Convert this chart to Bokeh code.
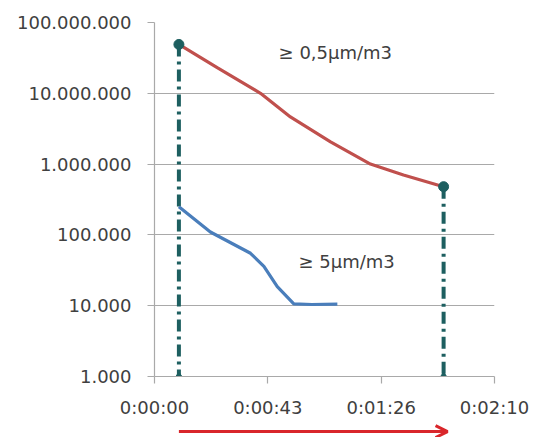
from bokeh.plotting import figure
from bokeh.layouts import column
from bokeh.models import Range1d, FixedTicker, Label, Arrow, OpenHead
from bokeh.embed import file_html
from bokeh.resources import INLINE

# ---- data (time in seconds, particle counts) ----
red_t = [9.3, 23.9, 40.4, 51.8, 67.1, 82.3, 94.9, 110.2]
red_v = [4.9e7, 2.3e7, 1.0e7, 4.64e6, 2.06e6, 1.0e6, 7.0e5, 4.8e5]

blue_t = [9.3, 21.3, 36.6, 41.7, 46.8, 53.1, 60.0, 69.7]
blue_v = [2.5e5, 1.1e5, 5.5e4, 3.6e4, 1.86e4, 1.06e4, 1.04e4, 1.05e4]

marker_t = [9.3, 110.2]
marker_top = [4.9e7, 4.8e5]
y_floor = 1000

y_ticks = [1e3, 1e4, 1e5, 1e6, 1e7, 1e8]
y_tick_labels = ["1.000", "10.000", "100.000", "1.000.000", "10.000.000", "100.000.000"]
x_ticks = [0, 43.2, 86.4, 129.6]
x_tick_labels = ["0:00:00", "0:00:43", "0:01:26", "0:02:10"]

label_big = "\u2265 0,5\u00b5m/m3"
label_small = "\u2265 5\u00b5m/m3"

arrow_t = [9.3, 111.7]

FONT = "DejaVu Sans"
GRID = "#a9a9a9"
TEAL = "#1d5f60"
ARROW_RED = "#d9262b"

p = figure(width=537, height=420, y_axis_type="log",
           x_range=Range1d(0, 129.6), y_range=Range1d(1e3, 1e8),
           output_backend="svg", toolbar_location=None,
           min_border_left=154, min_border_right=43,
           min_border_top=22, min_border_bottom=43)
p.outline_line_color = None
p.background_fill_color = "white"

p.xgrid.visible = False
p.ygrid.ticker = FixedTicker(ticks=y_ticks)
p.ygrid.grid_line_color = GRID
p.ygrid.grid_line_width = 1.2

for ax in (p.yaxis[0], p.xaxis[0]):
    ax.axis_line_color = GRID
    ax.axis_line_width = 1.2
    ax.major_tick_line_color = GRID
    ax.major_tick_line_width = 1.2
    ax.major_tick_in = 0
    ax.major_tick_out = 7
    ax.minor_tick_line_color = None
    ax.major_label_text_font = FONT
    ax.major_label_text_font_size = "18px"
    ax.major_label_text_color = "#404040"

p.yaxis[0].ticker = FixedTicker(ticks=y_ticks)
p.yaxis[0].major_label_overrides = {t: l for t, l in zip(y_ticks, y_tick_labels)}
p.yaxis[0].major_label_standoff = 16
p.xaxis[0].ticker = FixedTicker(ticks=x_ticks)
p.xaxis[0].major_label_overrides = {t: l for t, l in zip(x_ticks, x_tick_labels)}
p.xaxis[0].major_label_standoff = 13

# dashed marker lines
for t, top in zip(marker_t, marker_top):
    p.line([t, t], [top, y_floor], line_color=TEAL, line_width=4, line_dash="12 5 3 5")
p.line(red_t, red_v, line_color="#c0504d", line_width=3.2)
p.line(blue_t, blue_v, line_color="#4a7ebb", line_width=3.2)
p.scatter(marker_t, marker_top, marker="circle", size=10, fill_color=TEAL, line_color=TEAL)
p.scatter(marker_t, [y_floor] * len(marker_t), marker="diamond", size=9,
          fill_color=TEAL, line_color=TEAL)

p.add_layout(Label(x=47.3, y=3.78e7, text=label_big, text_font=FONT,
                   text_font_size="18px", text_color="#404040", text_baseline="middle"))
p.add_layout(Label(x=54.9, y=4.17e4, text=label_small, text_font=FONT,
                   text_font_size="18px", text_color="#404040", text_baseline="middle"))

# strip below the axis holding the red time arrow (shares the x range)
p2 = figure(width=537, height=17, x_range=p.x_range, y_range=Range1d(0, 1),
            output_backend="svg", toolbar_location=None,
            x_axis_location=None, y_axis_location=None,
            min_border_left=154, min_border_right=43,
            min_border_top=0, min_border_bottom=0)
p2.outline_line_color = None
p2.xgrid.visible = False
p2.ygrid.visible = False
p2.add_layout(Arrow(x_start=arrow_t[0], y_start=0.35, x_end=arrow_t[1], y_end=0.35,
                    line_color=ARROW_RED, line_width=3,
                    end=OpenHead(size=12, line_color=ARROW_RED, line_width=3)))

open("out.html", "w").write(file_html(column(p, p2, spacing=0), INLINE))
